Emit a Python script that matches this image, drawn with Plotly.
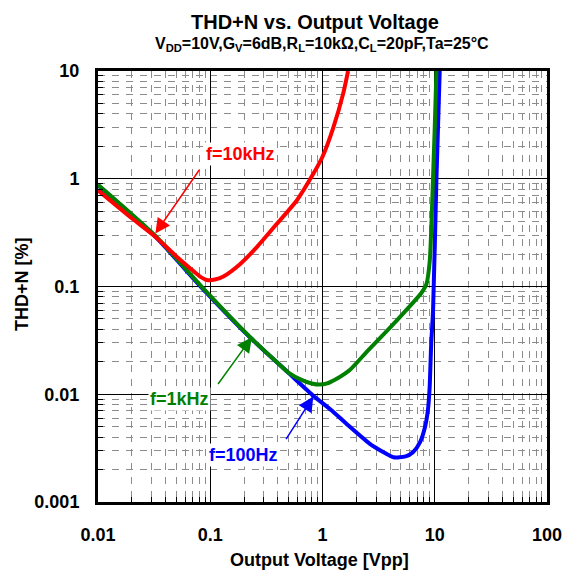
import plotly.graph_objects as go

# ---- data ----
red_x = [0.01, 0.02, 0.0324, 0.05, 0.0664, 0.08, 0.0935, 0.11, 0.131, 0.185, 0.26, 0.392, 0.59, 0.828, 1.0, 1.25, 1.53, 1.69]
red_y = [0.78, 0.43, 0.29, 0.19, 0.147, 0.125, 0.115, 0.116, 0.124, 0.162, 0.232, 0.382, 0.629, 1.11, 1.6, 3.0, 6.2, 10]

green_x = [0.01, 0.0324, 0.09, 0.227, 0.4, 0.5, 0.65, 0.8, 0.95, 1.1, 1.35, 1.75, 2.5, 3.5, 4.89, 6.5, 7.6, 8.43, 9.03, 9.4, 9.66, 10.0, 10.35]
green_y = [0.88, 0.296, 0.092, 0.0338, 0.0195, 0.0158, 0.0136, 0.0126, 0.0123, 0.0126, 0.0140, 0.0168, 0.0250, 0.036, 0.052, 0.072, 0.087, 0.105, 0.174, 0.45, 1.04, 3.0, 10]

blue_x = [0.01, 0.0324, 0.09, 0.227, 0.5, 0.828, 1.2, 1.64, 2.64, 3.5, 4.3, 5.5, 6.4, 7.4, 8.2, 8.7, 9.0, 9.3, 9.66, 10.35, 11.07]
blue_y = [0.87, 0.29, 0.09, 0.0335, 0.0157, 0.0097, 0.0071, 0.0053, 0.00347, 0.0029, 0.0026, 0.00265, 0.0029, 0.0036, 0.0050, 0.0072, 0.0114, 0.0295, 0.06, 1.0, 10]

x_ticks = [0.01, 0.1, 1, 10, 100]
x_tick_labels = ["0.01", "0.1", "1", "10", "100"]
y_ticks = [0.001, 0.01, 0.1, 1, 10]
y_tick_labels = ["0.001", "0.01", "0.1", "1", "10"]

FONT = "Arial, Liberation Sans, sans-serif"

def minor_vals(lo_exp, hi_exp):
    vals = []
    for e in range(lo_exp, hi_exp):
        for m in range(2, 10):
            vals.append(m * 10 ** e)
    return vals

fig = go.Figure()
fig.add_trace(go.Scatter(x=blue_x, y=blue_y, mode="lines", line=dict(color="#0000FF", width=4, shape="spline", smoothing=0.6), showlegend=False))
fig.add_trace(go.Scatter(x=green_x, y=green_y, mode="lines", line=dict(color="#008000", width=4, shape="spline", smoothing=0.6), showlegend=False))
fig.add_trace(go.Scatter(x=red_x, y=red_y, mode="lines", line=dict(color="#FF0000", width=4, shape="spline", smoothing=0.6), showlegend=False))

axis_common = dict(
    type="log",
    showline=True, linecolor="black", linewidth=3, mirror=True,
    showgrid=True, gridcolor="black", gridwidth=1,
    ticks="inside", ticklen=8, tickcolor="black", tickwidth=1,
    tickfont=dict(family=FONT, size=18, color="black", weight="bold"),
    zeroline=False,
)

fig.update_xaxes(
    **axis_common,
    range=[-2, 2],
    tickmode="array", tickvals=x_ticks, ticktext=x_tick_labels,
    ticklabelstandoff=14,
    minor=dict(tickmode="array", tickvals=minor_vals(-2, 2), ticks="inside", ticklen=5,
               tickcolor="black", showgrid=True, gridcolor="#8c8c8c", gridwidth=1, griddash="7px,7px"),
)
fig.update_yaxes(
    **axis_common,
    range=[-3, 1],
    tickmode="array", tickvals=y_ticks, ticktext=y_tick_labels,
    ticklabelstandoff=12,
    minor=dict(tickmode="array", tickvals=minor_vals(-3, 1), ticks="inside", ticklen=5,
               tickcolor="black", showgrid=True, gridcolor="#8c8c8c", gridwidth=1, griddash="7px,7px"),
)

annotations = [
    dict(text="<b>THD+N vs. Output Voltage</b>", xref="paper", yref="paper", x=0.483, y=1.143,
         showarrow=False, font=dict(family=FONT, size=20, color="black"), xanchor="center", yanchor="top"),
    dict(text="<b>V<sub>DD</sub>=10V,G<sub>V</sub>=6dB,R<sub>L</sub>=10kΩ,C<sub>L</sub>=20pF,Ta=25°C</b>",
         xref="paper", yref="paper", x=0.499, y=1.062,
         showarrow=False, font=dict(family=FONT, size=16, color="black"), xanchor="center", yanchor="middle"),
    dict(text="<b>Output Voltage [Vpp]</b>", xref="paper", yref="paper", x=0.494, y=-0.1355,
         showarrow=False, font=dict(family=FONT, size=18, color="black"), xanchor="center", yanchor="middle"),
    dict(text="<b>THD+N [%]</b>", xref="paper", yref="paper", x=-0.168, y=0.505, textangle=-90,
         showarrow=False, font=dict(family=FONT, size=18, color="black"), xanchor="center", yanchor="middle"),
    # arrows
    dict(x=-1.489, y=-0.508, ax=-1.089, ay=0.0956, xref="x", yref="y", axref="x", ayref="y",
         text="", showarrow=True, arrowhead=2, arrowsize=2, arrowwidth=1.5, arrowcolor="#FF0000"),
    dict(x=-0.629, y=-1.471, ax=-0.940, ay=-1.919, xref="x", yref="y", axref="x", ayref="y",
         text="", showarrow=True, arrowhead=2, arrowsize=2, arrowwidth=1.5, arrowcolor="#008000"),
    dict(x=-0.082, y=-2.022, ax=-0.333, ay=-2.43, xref="x", yref="y", axref="x", ayref="y",
         text="", showarrow=True, arrowhead=2, arrowsize=2, arrowwidth=1.5, arrowcolor="#0000FF"),
    # labels
    dict(x=-0.733, y=0.226, xref="x", yref="y", text="<b>f=10kHz</b>", showarrow=False,
         font=dict(family=FONT, size=18, color="#FF0000"), bgcolor="white"),
    dict(x=-1.276, y=-2.041, xref="x", yref="y", text="<b>f=1kHz</b>", showarrow=False,
         font=dict(family=FONT, size=18, color="#008000"), bgcolor="white"),
    dict(x=-0.707, y=-2.56, xref="x", yref="y", text="<b>f=100Hz</b>", showarrow=False,
         font=dict(family=FONT, size=18, color="#0000FF"), bgcolor="white"),
]

# the page adds an 8px body margin, so the figure is sized/offset to compensate
fig.update_layout(
    width=570, height=565,
    margin=dict(l=89.5, r=30.5, t=62.6, b=71.4, autoexpand=False),
    paper_bgcolor="white", plot_bgcolor="white",
    annotations=annotations,
    showlegend=False,
)

fig.write_html("out.html")
